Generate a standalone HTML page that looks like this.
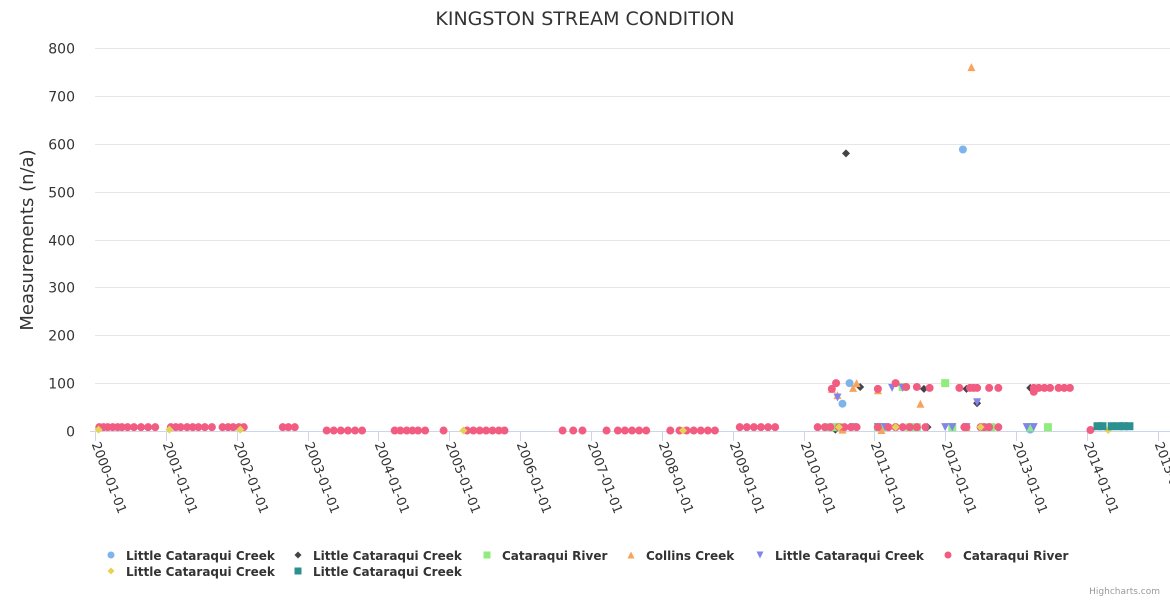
<!DOCTYPE html>
<html><head><meta charset="utf-8">
<style>
html,body{margin:0;padding:0;background:#fff;}
svg{display:block;font-family:"DejaVu Sans","Liberation Sans",sans-serif;}
</style></head>
<body>
<svg id="chart" width="1170" height="600" xmlns="http://www.w3.org/2000/svg">
<rect width="1170" height="600" fill="#fff"/>
<text x="585" y="25" text-anchor="middle" font-size="19" fill="#333">KINGSTON STREAM CONDITION</text>
<text transform="translate(33,240) rotate(-90)" text-anchor="middle" font-size="18" fill="#333">Measurements (n/a)</text>
<g id="grid"></g><g id="xaxis"></g><g id="marks"></g><g id="legend"></g>
<text x="1160" y="594" text-anchor="end" font-size="9" fill="#999">Highcharts.com</text>
</svg>
<script>
const yTicks = [0,100,200,300,400,500,600,700,800];
const xTickYears = [2000,2001,2002,2003,2004,2005,2006,2007,2008,2009,2010,2011,2012,2013,2014,2015];
const seriesNames = ["Little Cataraqui Creek","Little Cataraqui Creek","Cataraqui River","Collins Creek","Little Cataraqui Creek","Cataraqui River","Little Cataraqui Creek","Little Cataraqui Creek"];
const seriesColors = ["#7cb5ec","#434348","#90ed7d","#f7a35c","#8085e9","#f15c80","#e4d354","#2b908f"];
const seriesSymbols = ["circle","diamond","square","triangle","triangle-down","circle","diamond","square"];
// dates as decimal years
const s0x=[2010.55,2010.65,2011.3,2012.25,2012.5,2013.2,2010.4];
const s0y=[57,100,8,588,8,3,8];
const s1x=[2010.6,2010.8,2010.45,2011.7,2011.75,2012.3,2012.45,2013.2];
const s1y=[580,92,3,88,8,88,58,90];
const s2x=[2010.35,2010.45,2010.5,2011.05,2011.15,2011.4,2011.5,2011.6,2012.0,2012.1,2012.55,2012.65,2013.2,2013.45];
const s2y=[8,8,8,8,8,92,8,8,100,8,8,8,8,8];
const s3x=[2010.4,2010.48,2010.7,2010.75,2011.05,2011.65,2012.37,2010.55,2011.1,2012.3];
const s3y=[88,75,90,100,85,57,760,3,2,8];
const s4x=[2010.48,2010.7,2011.05,2011.15,2011.25,2011.4,2012.0,2012.1,2012.3,2012.45,2013.15,2013.25];
const s4y=[70,8,8,8,90,90,8,8,8,60,8,8];
const s5x=[2000.06,2000.12,2000.18,2000.25,2000.32,2000.38,2000.46,2000.55,2000.65,2000.75,2000.85,
2001.07,2001.14,2001.21,2001.3,2001.38,2001.46,2001.55,2001.65,2001.8,2001.88,2001.95,2002.03,2002.1,
2002.65,2002.73,2002.82,2003.27,2003.37,2003.47,2003.57,2003.67,2003.77,2004.23,2004.31,2004.4,2004.48,2004.56,2004.66,2004.92,
2005.25,2005.34,2005.43,2005.52,2005.61,2005.7,2005.78,2006.6,2006.75,2006.88,2007.22,2007.38,2007.48,2007.58,2007.68,2007.78,
2008.12,2008.25,2008.35,2008.45,2008.55,2008.65,2008.75,2009.1,2009.2,2009.3,2009.4,2009.5,2009.6,
2010.2,2010.3,2010.38,2010.5,2010.58,2010.67,2010.75,2010.46,2010.4,2011.05,2011.2,2011.3,2011.4,2011.5,2011.6,2011.72,2011.3,2011.05,2011.45,2011.6,2011.78,
2012.2,2012.27,2012.35,2012.45,2012.5,2012.62,2012.75,2012.3,2012.4,2012.55,2012.62,2012.75,
2013.25,2013.32,2013.4,2013.48,2013.6,2013.68,2013.76,2013.25,2014.05];
const s5y=[8,8,8,8,8,8,8,8,8,8,8,8,8,8,8,8,8,8,8,8,8,8,8,8,
8,8,8,1,1,1,1,1,1,1,1,1,1,1,1,1,1,1,1,1,1,1,1,1,1,1,1,1,1,1,1,1,
1,1,1,1,1,1,1,8,8,8,8,8,8,
8,8,8,8,8,8,8,100,88,8,8,8,8,8,8,8,100,88,92,92,90,
90,8,90,90,8,8,8,8,90,8,90,90,
90,90,90,90,90,90,90,82,2];
const s6x=[2000.05,2001.05,2002.05,2005.2,2008.3,2010.5,2011.3,2012.5,2014.3];
const s6y=[3,3,3,1,1,8,8,8,2];
const s7x=[2014.15,2014.22,2014.35,2014.45,2014.52,2014.6];
const s7y=[10,10,10,10,10,10];
const allX=[s0x,s1x,s2x,s3x,s4x,s5x,s6x,s7x];
const allY=[s0y,s1y,s2y,s3y,s4y,s5y,s6y,s7y];

const NS="http://www.w3.org/2000/svg";
const L=95,R=1160,T=48,B=431;
function xs(yr){return L+(yr-2000)*70.85;}
function ys(v){return B-(v/800)*(B-T);}
function mk(tag,at){const e=document.createElementNS(NS,tag);for(const k in at)e.setAttribute(k,at[k]);return e;}
const grid=document.getElementById('grid'),xa=document.getElementById('xaxis'),marks=document.getElementById('marks'),lg=document.getElementById('legend');
yTicks.forEach(v=>{
  const y=Math.round(ys(v))+0.5;
  if(v>0){const l=mk('line',{x1:L,x2:R+10,y1:y,y2:y,stroke:'#e6e6e6'});
  
  grid.appendChild(l);}
  const t=mk('text',{x:75,y:y+5,'text-anchor':'end','font-size':'14',fill:'#333'});t.textContent=v;
  
  grid.appendChild(t);
});
const base=mk('line',{x1:L-5,x2:R+10,y1:431.5,y2:431.5,stroke:'#ccd6eb'});

xa.appendChild(base);
xTickYears.forEach(yr=>{
  const x=Math.round(xs(yr))+0.5;
  const tk=mk('line',{x1:x,x2:x,y1:431,y2:441,stroke:'#ccd6eb'});
  
  xa.appendChild(tk);
  const t=mk('text',{transform:`translate(${x-4},${444}) rotate(69)`,'font-size':'13',fill:'#333'});
  t.textContent=yr+'-01-01';
  
  xa.appendChild(t);
});
function sym(s,cx,cy,c,r){
  if(s==='circle')return mk('circle',{cx,cy,r,fill:c});
  if(s==='square')return mk('rect',{x:cx-r,y:cy-r,width:2*r,height:2*r,fill:c});
  if(s==='diamond')return mk('path',{d:`M${cx},${cy-r}L${cx+r},${cy}L${cx},${cy+r}L${cx-r},${cy}Z`,fill:c});
  if(s==='triangle')return mk('path',{d:`M${cx},${cy-r}L${cx+r},${cy+r}L${cx-r},${cy+r}Z`,fill:c});
  return mk('path',{d:`M${cx-r},${cy-r}L${cx+r},${cy-r}L${cx},${cy+r}Z`,fill:c});
}
allX.forEach((xsArr,i)=>{
  xsArr.forEach((d,j)=>{
    const p=sym(seriesSymbols[i],xs(d),ys(allY[i][j]),seriesColors[i],4);
    
    
    marks.appendChild(p);
  });
});
const legPos=[[111,556],[298,556],[487,556],[631,556],[760,556],[948,556],[111,572],[298,572]];
seriesNames.forEach((n,i)=>{
  const [x,y]=legPos[i];
  const g=mk('g',{});
  
  
  g.appendChild(sym(seriesSymbols[i],x,y-1,seriesColors[i],3.5));
  const t=mk('text',{x:x+15,y:y+4,'font-size':'12','font-weight':'bold',fill:'#333'});t.textContent=n;
  g.appendChild(t);lg.appendChild(g);
});
</script>
</body></html>
